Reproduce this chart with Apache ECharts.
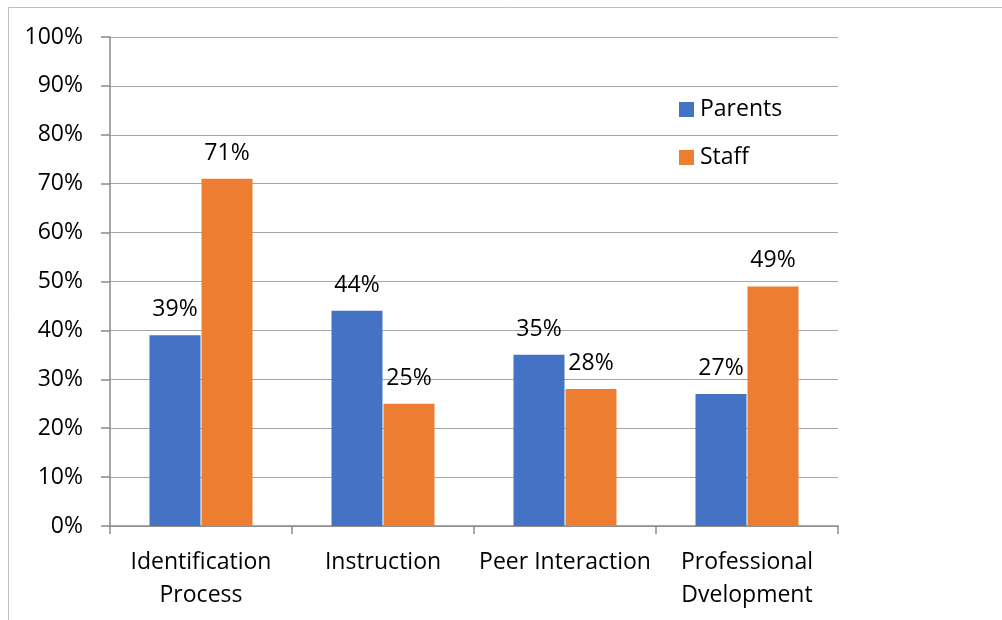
<!DOCTYPE html>
<html>
<head>
<meta charset="utf-8">
<script src="https://cdn.jsdelivr.net/npm/echarts@6/dist/echarts.min.js"></script>
<style>
html,body{margin:0;padding:0;background:#fff;}
#chart{width:1002px;height:620px;}
</style>
</head>
<body>
<div id="chart"></div>
<script>
const categories = ['Identification\nProcess', 'Instruction', 'Peer Interaction', 'Professional\nDvelopment'];
const parents = [39, 44, 35, 27];
const staff = [71, 25, 28, 49];
const seriesNames = ['Parents', 'Staff'];

const FONT = 'Open Sans';
const FS = 23;
const chart = echarts.init(document.getElementById('chart'));
chart.setOption({
  animation: false,
  textStyle: { fontFamily: FONT },
  graphic: [{
    type: 'rect',
    shape: { x: 8.5, y: 7.5, width: 1200, height: 800 },
    style: { fill: 'none', stroke: '#bfbfbf', lineWidth: 1 },
    silent: true
  }],
  grid: { left: 110, right: 164, top: 37, bottom: 94 },
  legend: {
    orient: 'vertical',
    left: 679,
    top: 98,
    padding: 0,
    itemWidth: 15,
    itemHeight: 15,
    itemGap: 25,
    icon: 'rect',
    textStyle: { fontFamily: FONT, fontSize: FS, color: '#000', lineHeight: 23, padding: [0, 0, 0, 1] },
    data: seriesNames
  },
  xAxis: {
    type: 'category',
    data: categories,
    axisLine: { lineStyle: { color: '#8a8a8a', width: 1.5 } },
    axisTick: { show: true, length: 8, lineStyle: { color: '#8a8a8a', width: 1.5 } },
    axisLabel: { fontFamily: FONT, fontSize: FS, color: '#000', lineHeight: 33, margin: 20, interval: 0 }
  },
  yAxis: {
    type: 'value',
    min: 0, max: 100, interval: 10,
    axisLine: { show: true, lineStyle: { color: '#8a8a8a', width: 1.5 } },
    axisTick: { show: true, length: 9, lineStyle: { color: '#8a8a8a', width: 1.5 } },
    axisLabel: { formatter: '{value}%', fontFamily: FONT, fontSize: FS, color: '#000', margin: 27 },
    splitLine: { lineStyle: { color: '#a6a6a6', width: 1.2 } }
  },
  series: [
    {
      name: seriesNames[0], type: 'bar', data: parents,
      barWidth: 51, barGap: '2%',
      itemStyle: { color: '#4472C4' },
      label: { show: true, position: 'top', distance: 14, formatter: '{c}%', fontFamily: FONT, fontSize: FS, color: '#000' }
    },
    {
      name: seriesNames[1], type: 'bar', data: staff,
      barWidth: 51, barGap: '2%',
      itemStyle: { color: '#ED7D31' },
      label: { show: true, position: 'top', distance: 14, formatter: '{c}%', fontFamily: FONT, fontSize: FS, color: '#000' }
    }
  ]
});
</script>
</body>
</html>
